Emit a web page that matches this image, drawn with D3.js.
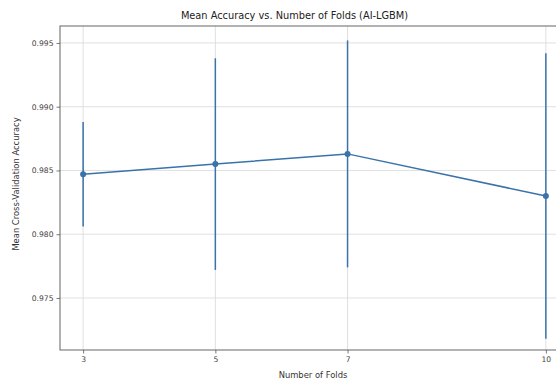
<!DOCTYPE html>
<html><head><meta charset="utf-8">
<script src="https://cdn.jsdelivr.net/npm/d3@7"></script>
<style>body{margin:0;background:#fff;}svg{display:block;font-family:"DejaVu Sans",sans-serif;}</style>
</head><body>
<svg id="c" width="556" height="385"></svg>
<script>
const folds = [3, 5, 7, 10];
const meanAcc = [0.9847, 0.9855, 0.9863, 0.9830];
const stdAcc = [0.0041, 0.0083, 0.0089, 0.0112];
const xTicks = [3, 5, 7, 10];
const yTicks = [0.975, 0.980, 0.985, 0.990, 0.995];

const svg = d3.select("#c");
const L = 60, R = 569, T = 26, B = 350;
const x = d3.scaleLinear().domain([2.65, 10.35]).range([L, R]);
const y = d3.scaleLinear().domain([0.97092, 0.99633]).range([B, T]);
const col = "#3a72aa";

const g = svg.append("g");
// grid
g.selectAll(".gx").data(xTicks).enter().append("line")
  .attr("x1", d => x(d)).attr("x2", d => x(d)).attr("y1", T).attr("y2", B)
  .attr("stroke", "#d8d8d8").attr("stroke-width", 0.8);
g.selectAll(".gy").data(yTicks).enter().append("line")
  .attr("x1", L).attr("x2", R).attr("y1", d => y(d)).attr("y2", d => y(d))
  .attr("stroke", "#d8d8d8").attr("stroke-width", 0.8);

// axes
const xa = svg.append("g").attr("transform", `translate(0,${B})`)
  .call(d3.axisBottom(x).tickValues(xTicks).tickFormat(d3.format("d")).tickSize(3.5).tickPadding(3));
const ya = svg.append("g").attr("transform", `translate(${L},0)`)
  .call(d3.axisLeft(y).tickValues(yTicks).tickFormat(d3.format(".3f")).tickSize(3.5).tickPadding(3));
[xa, ya].forEach(a => {
  a.select(".domain").remove();
  a.selectAll("line").attr("stroke", "#555").attr("stroke-width", 0.8);
  a.selectAll("text").attr("fill", "#444").style("font-size", "7.6px").style("font-family", "DejaVu Sans");
});
// spines
svg.append("rect").attr("x", L).attr("y", T).attr("width", R - L).attr("height", B - T)
  .attr("fill", "none").attr("stroke", "#555").attr("stroke-width", 0.9);

// error bars
svg.selectAll(".eb").data(folds).enter().append("line")
  .attr("x1", d => x(d)).attr("x2", d => x(d))
  .attr("y1", (d, i) => y(meanAcc[i] - stdAcc[i])).attr("y2", (d, i) => y(meanAcc[i] + stdAcc[i]))
  .attr("stroke", col).attr("stroke-width", 1.5);
// line
svg.append("path").datum(folds.map((f, i) => [f, meanAcc[i]]))
  .attr("d", d3.line().x(d => x(d[0])).y(d => y(d[1])))
  .attr("fill", "none").attr("stroke", col).attr("stroke-width", 1.5);
svg.selectAll(".pt").data(folds).enter().append("circle")
  .attr("cx", d => x(d)).attr("cy", (d, i) => y(meanAcc[i])).attr("r", 3)
  .attr("fill", col);

// labels
svg.append("text").attr("x", 294.5).attr("y", 19).attr("text-anchor", "middle")
  .attr("fill", "#222").style("font-size", "9.8px").text("Mean Accuracy vs. Number of Folds (AI-LGBM)");
svg.append("text").attr("x", 313).attr("y", 378).attr("text-anchor", "middle")
  .attr("fill", "#333").style("font-size", "8.4px").text("Number of Folds");
svg.append("text").attr("transform", "translate(19,184) rotate(-90)").attr("text-anchor", "middle")
  .attr("fill", "#333").style("font-size", "8.4px").text("Mean Cross-Validation Accuracy");
</script>
</body></html>
